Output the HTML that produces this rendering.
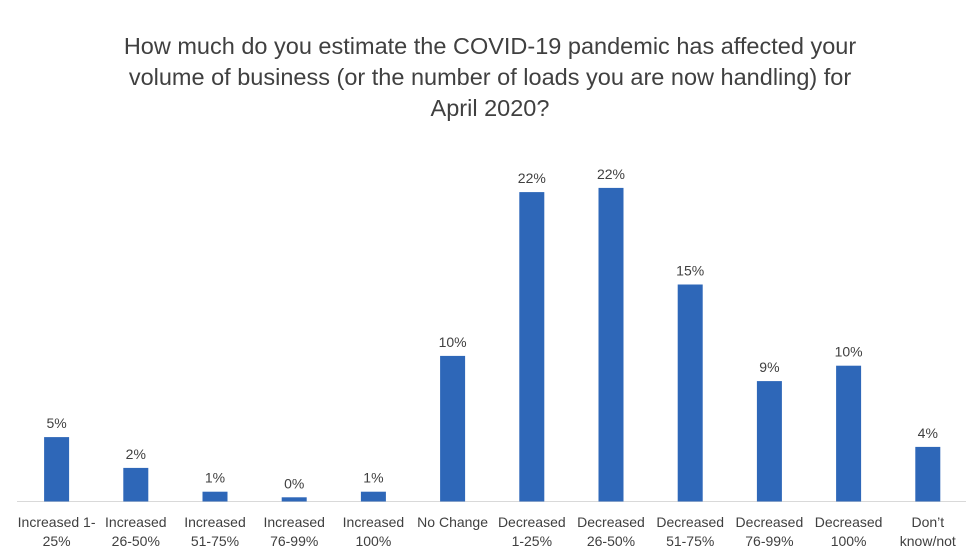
<!DOCTYPE html>
<html><head><meta charset="utf-8"><style>
body{margin:0;background:#fff;}
svg{display:block;font-family:"Liberation Sans",Arial,sans-serif;}
</style></head><body>
<svg id="chart" width="980" height="552">
<text x="490" y="54" text-anchor="middle" font-size="23.5" fill="#404040">How much do you estimate the COVID-19 pandemic has affected your</text>
<text x="490" y="85" text-anchor="middle" font-size="23.5" fill="#404040">volume of business (or the number of loads you are now handling) for</text>
<text x="490" y="116" text-anchor="middle" font-size="23.5" fill="#404040">April 2020?</text>
<line x1="17" y1="501.5" x2="966" y2="501.5" stroke="#d9d9d9" stroke-width="1"/>
<g id="bars"></g>
</svg>
<script>
const categories=[["Increased 1-","25%"],["Increased","26-50%"],["Increased","51-75%"],["Increased","76-99%"],["Increased","100%"],["No Change",""],["Decreased","1-25%"],["Decreased","26-50%"],["Decreased","51-75%"],["Decreased","76-99%"],["Decreased","100%"],["Don’t","know/not"]];
const values=[4.6,2.4,0.7,0.3,0.7,10.4,22.1,22.4,15.5,8.6,9.7,3.9];
const valueLabels=["5%","2%","1%","0%","1%","10%","22%","22%","15%","9%","10%","4%"];
const NS="http://www.w3.org/2000/svg";
const x0=17,step=79.2,bw=25,base=501.5,pxPer=14;
function xC(i){return x0+step*i+step/2;}
function yV(v){return base-v*pxPer;}
const g=document.getElementById('bars');
categories.forEach((c,i)=>{
  const cx=xC(i),y=yV(values[i]);
  const r=document.createElementNS(NS,'rect');
  r.setAttribute('x',cx-bw/2);r.setAttribute('y',y);r.setAttribute('width',bw);r.setAttribute('height',base-y);r.setAttribute('fill','#2e67b8');
  
  
  g.appendChild(r);
  const t=document.createElementNS(NS,'text');
  t.setAttribute('x',cx);t.setAttribute('y',y-9);t.setAttribute('text-anchor','middle');t.setAttribute('font-size','14');t.setAttribute('fill','#404040');
  t.textContent=valueLabels[i];
  
  
  g.appendChild(t);
  c.forEach((line,j)=>{
    if(!line)return;
    const l=document.createElementNS(NS,'text');
    l.setAttribute('x',cx);l.setAttribute('y',527+j*19);l.setAttribute('text-anchor','middle');l.setAttribute('font-size','14');l.setAttribute('fill','#404040');
    l.textContent=line;
    
    
    g.appendChild(l);
  });
});
</script>
</body></html>
